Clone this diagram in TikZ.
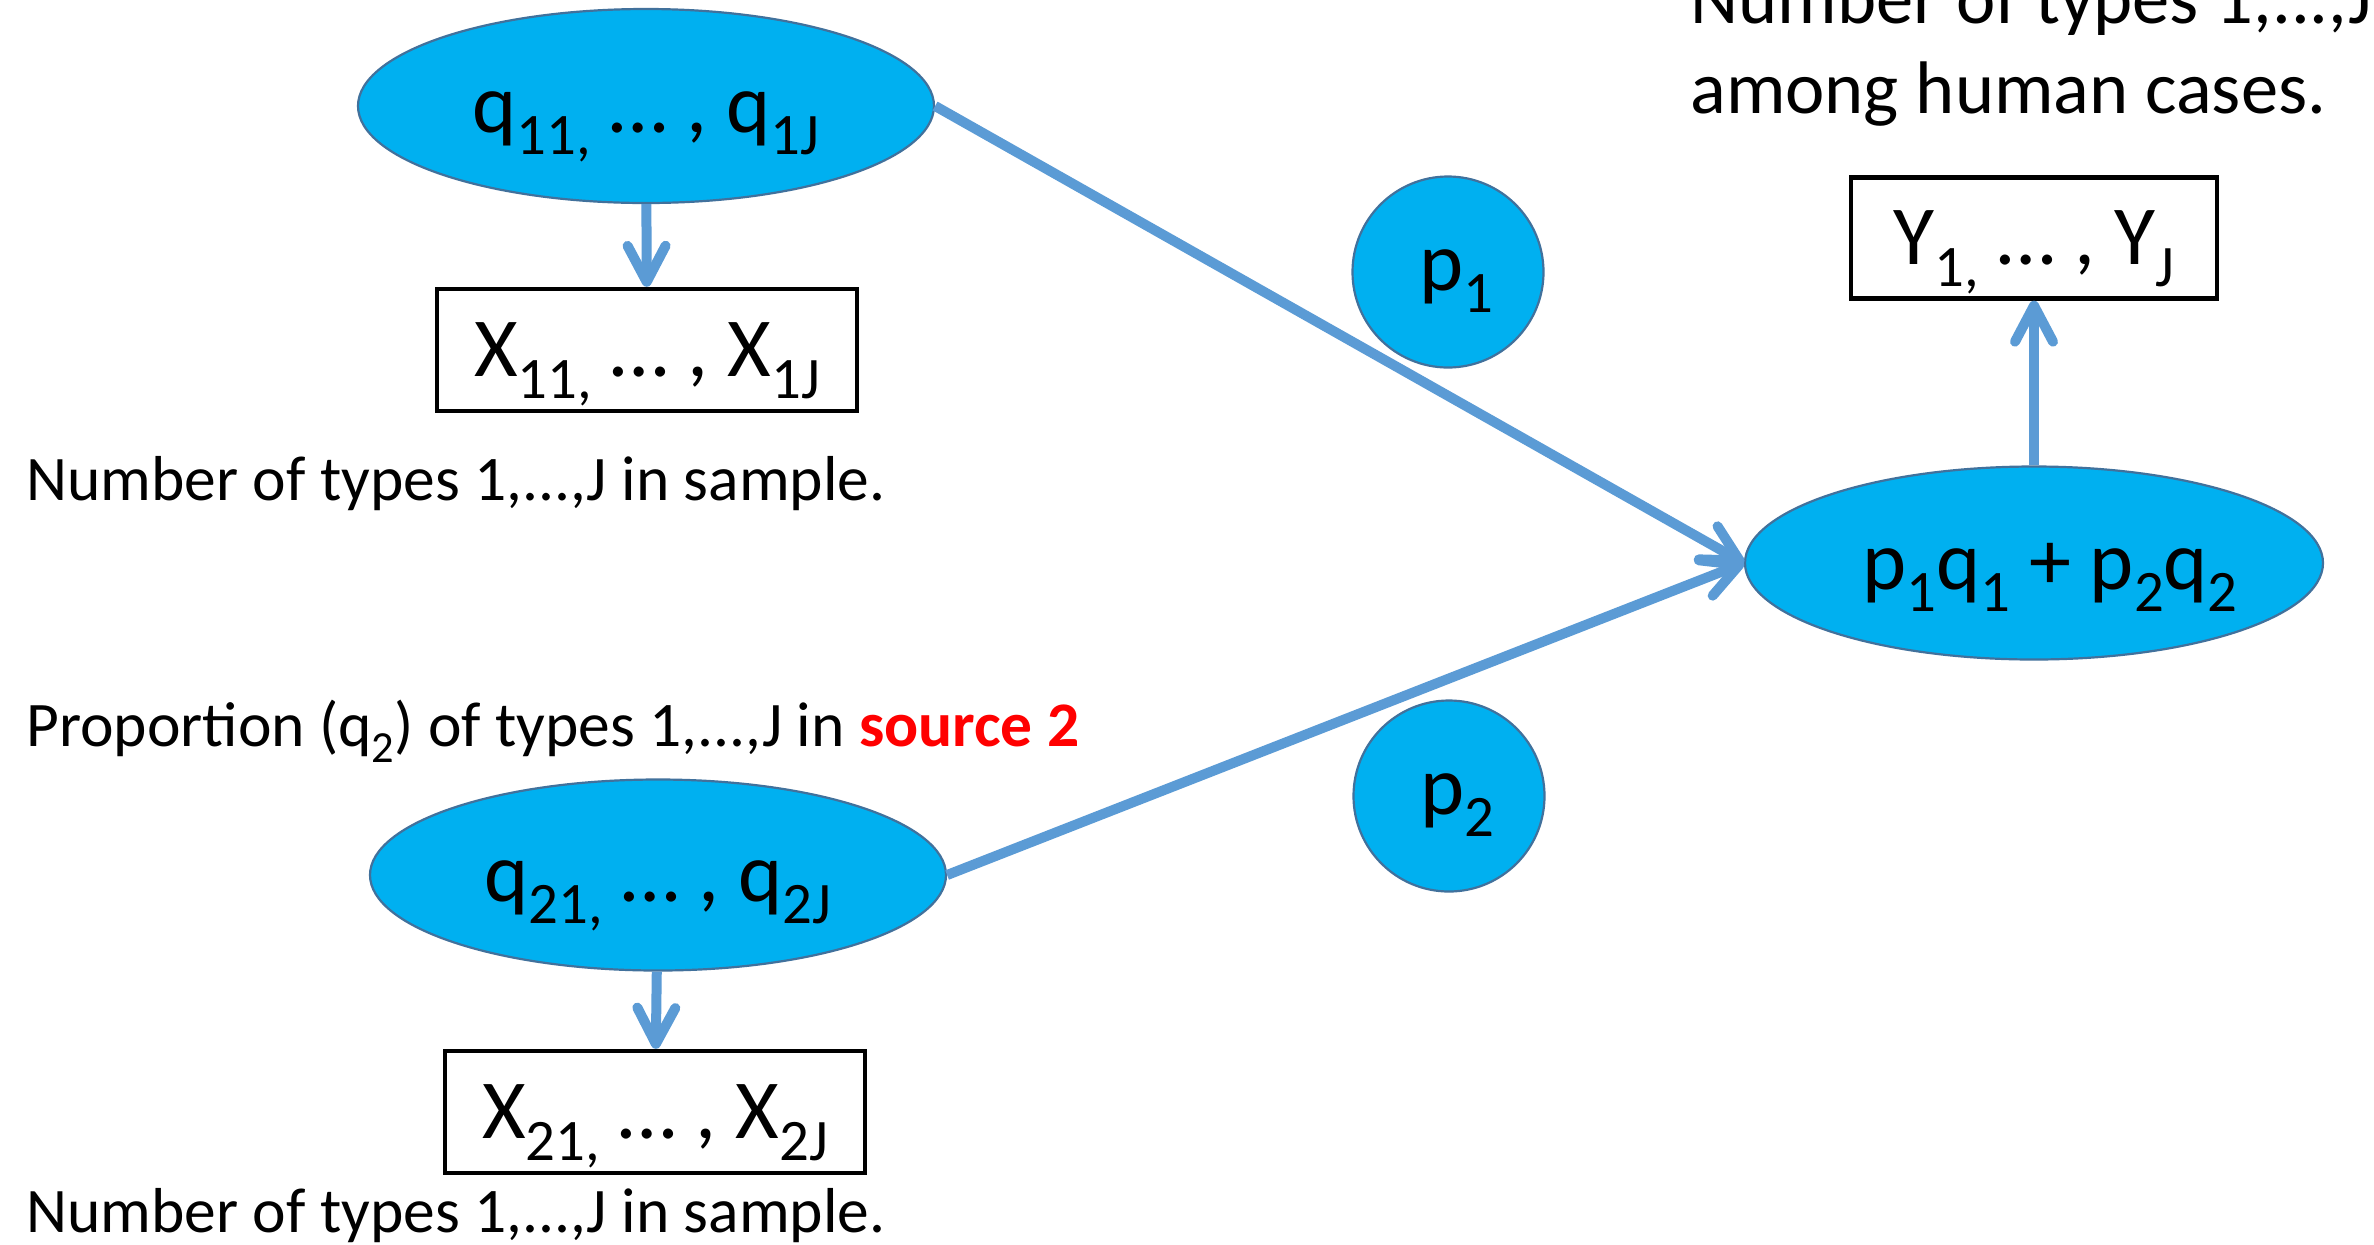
\documentclass[tikz,border=0pt]{standalone}
\usepackage{fontspec}
\usepackage{graphicx}
\setmainfont{Carlito}
\usetikzlibrary{shapes.geometric,arrows.meta}
\definecolor{fillblue}{HTML}{00B0F0}
\definecolor{edgeblue}{HTML}{41719C}
\definecolor{arrowblue}{HTML}{5B9BD5}
\definecolor{srcred}{HTML}{FF0000}
\newcommand\sbs[1]{\raisebox{-0.26em}{\scalebox{0.7}{#1}}}
\begin{document}
\begin{tikzpicture}[x=0.5pt,y=-0.5pt,
  bigtext/.style={font=\fontsize{42pt}{50pt}\selectfont},
  ell/.style={ellipse, fill=fillblue, draw=edgeblue, line width=1.1pt, inner sep=0pt,
    bigtext, text height=37pt, text depth=10.5pt},
  circ/.style={circle, fill=fillblue, draw=edgeblue, line width=1.1pt, inner sep=0pt,
    minimum size=95.5pt, bigtext, text height=29.4pt, text depth=10.5pt},
  databox/.style={rectangle, draw=black, line width=2.2pt, fill=white, inner sep=0pt,
    bigtext, text height=37pt, text depth=10.5pt},
  lbl/.style={inner sep=0pt, anchor=base west, font=\fontsize{31.75pt}{38pt}\selectfont},
  toplbl/.style={inner sep=0pt, anchor=base west, font=\fontsize{37.25pt}{45pt}\selectfont},
  flow/.style={draw=arrowblue, line width=5pt,
    -{Straight Barb[length=18pt, width=19pt, round]}}
]
\fill[white] (0,0) rectangle (2374,1244);
\useasboundingbox (0,0) rectangle (2374,1244);
\clip (0,0) rectangle (2374,1244);

% nodes
\node[ell, minimum width=288pt, minimum height=97pt] (q1) at (646,106) {q\sbs{11,} … , q\sbs{1J}};
\node[databox, minimum width=210pt, minimum height=61pt] (x1) at (647,350) {X\sbs{11,} … , X\sbs{1J}\hspace{14pt}};
\node[ell, minimum width=288pt, minimum height=95.5pt] (q2) at (658,875) {q\sbs{21,} … , q\sbs{2J}};
\node[databox, minimum width=210pt, minimum height=61pt] (x2) at (655,1112) {X\sbs{21,} … , X\sbs{2J}\hspace{14pt}};
\node[ell, minimum width=289pt, minimum height=96.5pt] (comb) at (2034,563) {\hspace{16pt}p\sbs{1}q\sbs{1} + p\sbs{2}q\sbs{2}};
\node[databox, minimum width=183pt, minimum height=60.5pt] (y) at (2034,238) {Y\sbs{1,} … , Y\sbs{J}\hspace{20pt}};
\node[circ] (p1) at (1448,272) {\hspace{8pt}p\sbs{1}};
\node[circ] (p2) at (1449,796) {\hspace{8pt}p\sbs{2}};

% labels
\node[lbl] (lab1) at (26,500) {Number of types 1,...,J in sample.};
\node[lbl] (lab2) at (26,746) {Proportion (q\sbs{2}) of types 1,...,J in \textcolor{srcred}{\textbf{source 2}}};
\node[lbl] (lab3) at (26,1232) {Number of types 1,...,J in sample.};
\node[toplbl] (top1) at (1690,23) {Number of types 1,...,J};
\node[toplbl] (top2) at (1690,113) {among human cases.};

% connectors
\draw[flow] (q1) -- (x1);
\draw[flow] (q2) -- (x2);
\draw[flow] (q1.east) -- (comb.west);
\draw[flow] (q2.east) -- (comb.west);
\draw[flow] (comb.north) -- (y.south);
\end{tikzpicture}
\end{document}
